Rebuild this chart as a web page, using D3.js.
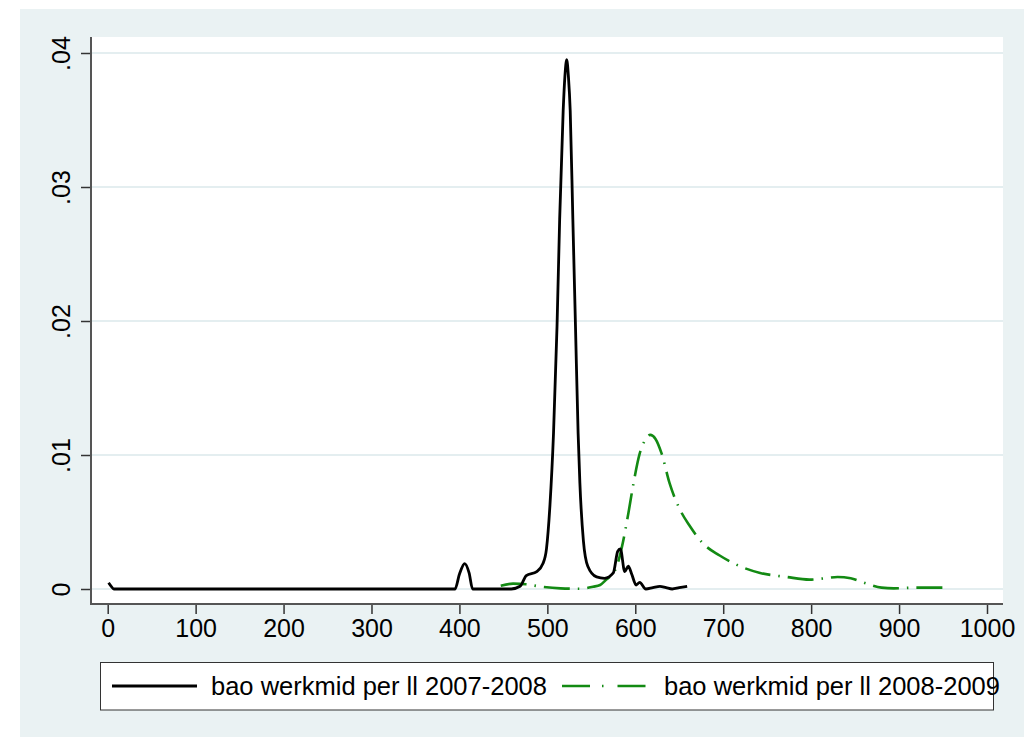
<!DOCTYPE html>
<html>
<head>
<meta charset="utf-8">
<script src="https://cdn.jsdelivr.net/npm/d3@7"></script>
<style>
  body { margin: 0; background: #fff; }
  text { font-family: "Liberation Sans", Arial, sans-serif; }
</style>
</head>
<body>
<div id="chart"></div>
<script>
// Density estimates
const x0708 = [1, 4, 7, 395, 400, 406, 411, 415, 459, 469, 476, 488, 495, 499, 503, 507, 511, 514, 518, 520, 522, 524, 526, 529, 532, 535, 537, 541, 546, 556, 565, 575, 580, 583, 588, 592, 596, 601, 605, 612, 620, 628, 635, 642, 650, 659];
const y0708 = [0.00047, 0.0002, 0, 0, 0.0011, 0.0019, 0.0012, 0, 0, 0.0002, 0.001, 0.0013, 0.0019, 0.003, 0.0063, 0.0116, 0.0196, 0.0276, 0.0357, 0.0383, 0.0395, 0.0382, 0.0357, 0.0276, 0.0196, 0.0116, 0.0079, 0.0036, 0.0017, 0.0009, 0.0008, 0.0012, 0.0028, 0.003, 0.0013, 0.0017, 0.0011, 0.0003, 0.0005, 0, 0.0001, 0.0002, 0.0001, 0, 0.0001, 0.0002];

const x0809 = [447, 461, 476, 490, 515, 537, 552, 560, 567, 575, 579, 585, 592, 598, 605, 611, 617, 623, 630, 639, 651, 662, 677, 696, 719, 742, 772, 798, 815, 830, 845, 863, 880, 894, 920, 940, 958];
const y0809 = [0.00025, 0.0004, 0.00035, 0.0002, 0.00005, 0.00002, 0.00017, 0.0003, 0.0007, 0.0012, 0.0017, 0.0032, 0.0056, 0.0079, 0.0101, 0.0111, 0.0115, 0.0112, 0.0101, 0.0079, 0.0059, 0.0047, 0.0034, 0.0025, 0.0017, 0.0012, 0.0009, 0.0007, 0.0008, 0.0009, 0.0008, 0.0004, 0.0001, 0.00005, 0.0001, 0.0001, 0.0001];

const xTicks = [0, 100, 200, 300, 400, 500, 600, 700, 800, 900, 1000];
const yTicks = [0, 0.01, 0.02, 0.03, 0.04];
const yTickLabels = ["0", ".01", ".02", ".03", ".04"];
const legendLabels = ["bao werkmid per ll 2007-2008", "bao werkmid per ll 2008-2009"];

const W = 1024, H = 737;
const svg = d3.select("#chart").append("svg")
  .attr("width", W)
  .attr("height", H);

// graph region background
svg.append("rect")
  .attr("x", 20).attr("y", 9)
  .attr("width", W - 20).attr("height", H - 9)
  .attr("fill", "#eaf2f3");

// plot region
const plot = { left: 91, top: 37, right: 1003, bottom: 604 };
svg.append("rect")
  .attr("x", plot.left).attr("y", plot.top)
  .attr("width", plot.right - plot.left).attr("height", plot.bottom - plot.top)
  .attr("fill", "#fff");

const xScale = d3.scaleLinear().domain([0, 1000]).range([107.7, 987]);
const yScale = d3.scaleLinear().domain([0, 0.04]).range([589, 53]);

// grid lines
svg.append("g")
  .selectAll("line")
  .data(yTicks)
  .enter()
  .append("line")
  .attr("x1", plot.left).attr("x2", plot.right)
  .attr("y1", d => yScale(d)).attr("y2", d => yScale(d))
  .attr("stroke", "#e4eef0")
  .attr("stroke-width", 2);

// y axis
const yAxis = d3.axisLeft(yScale)
  .tickValues(yTicks)
  .tickSize(10)
  .tickPadding(0)
  .tickFormat((d, i) => yTickLabels[i]);

const gy = svg.append("g")
  .attr("transform", `translate(${plot.left},0)`)
  .call(yAxis);
gy.select(".domain").remove();
gy.selectAll(".tick line").attr("stroke", "#333").attr("stroke-width", 1.5);
gy.selectAll(".tick text")
  .attr("x", null).attr("dy", null)
  .attr("text-anchor", "middle")
  .attr("transform", "translate(-21,0) rotate(-90)")
  .attr("font-size", 25)
  .attr("fill", "#000");
svg.append("line")
  .attr("x1", plot.left).attr("x2", plot.left)
  .attr("y1", plot.top).attr("y2", plot.bottom)
  .attr("stroke", "#555").attr("stroke-width", 2);

// x axis
const xAxis = d3.axisBottom(xScale)
  .tickValues(xTicks)
  .tickSize(9)
  .tickPadding(5)
  .tickFormat(d3.format("d"));

const gx = svg.append("g")
  .attr("transform", `translate(0,${plot.bottom + 1})`)
  .call(xAxis);
gx.select(".domain").remove();
gx.selectAll(".tick line").attr("stroke", "#333").attr("stroke-width", 1.5);
gx.selectAll(".tick text")
  .attr("font-size", 25)
  .attr("fill", "#000");
svg.append("line")
  .attr("x1", plot.left - 1).attr("x2", plot.right)
  .attr("y1", plot.bottom).attr("y2", plot.bottom)
  .attr("stroke", "#555").attr("stroke-width", 2);

// density lines
const line = d3.line()
  .x(d => xScale(d[0]))
  .y(d => yScale(d[1]))
  .curve(d3.curveMonotoneX);

svg.append("path")
  .datum(d3.zip(x0809, y0809))
  .attr("d", line)
  .attr("fill", "none")
  .attr("stroke", "#138a13")
  .attr("stroke-width", 2.6)
  .attr("stroke-dasharray", "26 8 1.5 8");

svg.append("path")
  .datum(d3.zip(x0708, y0708))
  .attr("d", line)
  .attr("fill", "none")
  .attr("stroke", "#000")
  .attr("stroke-width", 2.8)
  .attr("stroke-linejoin", "round");

// legend
const legend = svg.append("g");
legend.append("rect")
  .attr("x", 100.5).attr("y", 662.5)
  .attr("width", 893).attr("height", 47.5)
  .attr("fill", "#fff")
  .attr("stroke", "#333").attr("stroke-width", 1);

legend.append("line")
  .attr("x1", 112).attr("x2", 197)
  .attr("y1", 686).attr("y2", 686)
  .attr("stroke", "#000").attr("stroke-width", 2.8);
legend.append("text")
  .attr("x", 211).attr("y", 695)
  .attr("font-size", 25.5)
  .text(legendLabels[0]);

legend.append("line")
  .attr("x1", 562).attr("x2", 647)
  .attr("y1", 686).attr("y2", 686)
  .attr("stroke", "#138a13").attr("stroke-width", 2.6)
  .attr("stroke-dasharray", "28 12 1.5 14");
legend.append("text")
  .attr("x", 664).attr("y", 695)
  .attr("font-size", 25.5)
  .text(legendLabels[1]);
</script>
</body>
</html>
